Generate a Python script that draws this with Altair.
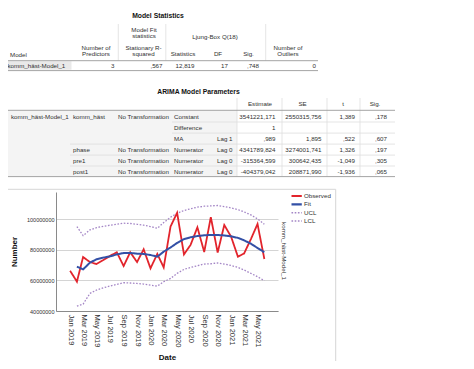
import altair as alt
import pandas as pd

FONT = "Liberation Sans"

# ---------------- data: time series (values in millions) ----------------
months = pd.date_range("2019-01-01", periods=30, freq="MS").strftime("%Y-%m-%dT00:00:00").tolist()
observed = [66.3, 59.2, 75.3, 72.0, 70.7, 73.3, 76.0, 78.4, 69.4, 78.4, 72.0, 80.3,
            67.9, 77.3, 68.5, 95.2, 104.2, 77.0, 83.2, 94.7, 78.6, 101.4, 78.2, 96.2,
            88.6, 75.5, 77.6, 87.0, 96.9, 74.0]
fit = [None, 69.0, 67.2, 71.6, 73.8, 74.9, 75.7, 77.0, 77.9, 77.9, 77.5, 77.3,
       76.6, 75.5, 78.8, 81.5, 84.5, 87.0, 88.2, 89.0, 89.5, 89.7, 89.7, 89.4,
       88.8, 87.8, 86.2, 84.0, 81.2, 78.4]
ucl = [None, 95.2, 89.3, 93.0, 94.5, 95.4, 96.1, 96.7, 97.4, 97.2, 96.7, 96.1,
       95.2, 94.1, 97.8, 101.3, 103.9, 105.7, 106.8, 107.9, 108.5, 108.7, 109.0, 108.3,
       107.4, 106.3, 104.8, 102.8, 100.2, 96.7]
lcl = [None, 43.2, 44.5, 51.5, 53.7, 55.2, 56.3, 57.4, 58.5, 58.3, 58.0, 57.6,
       56.9, 56.3, 59.1, 61.3, 64.6, 67.2, 68.5, 69.6, 70.7, 70.9, 71.4, 70.7,
       69.8, 68.5, 66.8, 64.6, 62.4, 59.8]
series_names = ["Observed", "Fit", "UCL", "LCL"]
y_ticks = [40000000, 60000000, 80000000, 100000000]
facet_label = "komm_häst-Model_1"

# ---------------- data: Model Statistics table ----------------
ms_title = "Model Statistics"
ms_stub_header = "Model"
ms_col_headers = [["Number of", "Predictors"], ["Stationary R-", "squared"], ["Statistics"],
                  ["DF"], ["Sig."], ["Number of", "Outliers"]]
ms_group_headers = [["Model Fit", "statistics"], ["Ljung-Box Q(18)"]]
ms_model = "komm_häst-Model_1"
ms_values = ["3", ",567", "12,819", "17", ",748", "0"]

# ---------------- data: ARIMA Model Parameters table ----------------
ar_title = "ARIMA Model Parameters"
ar_headers = ["Estimate", "SE", "t", "Sig."]
ar_model = "komm_häst-Model_1"
ar_var = ["komm_häst", "", "", "phase", "pre1", "post1"]
ar_transform = ["No Transformation", "", "", "No Transformation", "No Transformation", "No Transformation"]
ar_term = ["Constant", "Difference", "MA", "Numerator", "Numerator", "Numerator"]
ar_lag = ["", "", "Lag 1", "Lag 0", "Lag 0", "Lag 0"]
ar_estimate = ["3541221,171", "1", ",989", "4341789,824", "-315364,599", "-404379,042"]
ar_se = ["2550315,756", "", "1,895", "3274001,741", "300642,435", "208871,990"]
ar_t = ["1,389", "", ",522", "1,326", "-1,049", "-1,936"]
ar_sig = [",178", "", ",607", ",197", ",305", ",065"]

# ---------------- styles / layout ----------------
COLORS = {"Observed": "#e2242c", "Fit": "#3350a6", "UCL": "#a486c6", "LCL": "#a486c6"}
WIDTHS = {"Observed": 1.8, "Fit": 2.0, "UCL": 1.3, "LCL": 1.3}
DASHES = {"Observed": [1, 0], "Fit": [1, 0], "UCL": [1.6, 1.6], "LCL": [1.6, 1.6]}
TXT = "#303030"
LINE_DARK = "#9a9a9a"
LINE_LIGHT = "#dedede"

PLOT_L, PLOT_T, PLOT_W, PLOT_H = 56, 192, 222, 119
PAGE = 8
PX = alt.Scale(domain=[PLOT_L, PLOT_L + PLOT_W], nice=False, zero=False)
PY = alt.Scale(domain=[PLOT_T, PLOT_T + PLOT_H], nice=False, zero=False, reverse=True)

texts = []   # (text, x, y, align, bold, size, angle, color)
rules = []   # (x1, x2, y1, y2, color, width)
rects = []   # (x1, x2, y1, y2, color)


def T(t, x, y, align="left", bold=False, size=6.2, angle=0, color=TXT):
    if t != "":
        texts.append(dict(text=t, px=x, py=y, align=align, bold=bold, fs=size, ang=angle, col=color))


# Model Statistics layout
T(ms_title, 158, 16, "center", True, 6.8, color="#111")
T(ms_stub_header, 10, 54.5)
ms_centers = [96, 143.5, 183, 218, 248.5, 288]
ms_rights = [114.5, 162.5, 194.5, 228, 259, 316]
for c, lines in zip(ms_centers, ms_col_headers):
    ys = [47.7, 53.9] if len(lines) == 2 else [53.9]
    for ln, yy in zip(lines, ys):
        T(ln, c, yy, "center")
for c, lines, ys in zip([144, 215], ms_group_headers, [[29.5, 36], [37.3]]):
    for ln, yy in zip(lines, ys):
        T(ln, c, yy, "center")
rects.append((6.5, 71.5, 61.2, 69.8, "#e9e9e9"))
T(ms_model, 7.5, 65.5)
for r, v in zip(ms_rights, ms_values):
    T(v, r, 65.5, "right")
for xx in [118.3, 165.8, 265.7]:
    rules.append((xx, xx, 24, 60.5, LINE_LIGHT, 0.8))
rules.append((6, 318, 60.7, 60.7, LINE_DARK, 0.9))
rules.append((6, 318, 70.6, 70.6, LINE_DARK, 0.9))

# ARIMA layout
T(ar_title, 198.5, 92, "center", True, 6.8, color="#111")
ar_centers = [260, 302.5, 343, 375]
ar_rights = [275.5, 321.5, 355, 387]
for c, h in zip(ar_centers, ar_headers):
    T(h, c, 104, "center")
row_y = [116.5, 127.5, 138.6, 149.6, 160.5, 171.5]
rects.append((6, 237, 110.3, 176.5, "#f4f4f4"))
T(ar_model, 11, row_y[0])
for i, yy in enumerate(row_y):
    T(ar_var[i], 73, yy)
    T(ar_transform[i], 118, yy)
    T(ar_term[i], 174, yy)
    T(ar_lag[i], 217, yy)
    for r, col in zip(ar_rights, [ar_estimate, ar_se, ar_t, ar_sig]):
        T(col[i], r, yy, "right")
for xx in [237, 282, 327, 360]:
    rules.append((xx, xx, 98, 176.5, LINE_LIGHT, 0.8))
for yy, x0 in [(122, 172), (133.1, 172), (144.1, 70), (155.1, 70), (166, 70)]:
    rules.append((x0, 395, yy, yy, LINE_LIGHT, 0.8))
rules.append((6, 395, 110.3, 110.3, LINE_DARK, 0.9))
rules.append((6, 395, 176.6, 176.6, LINE_DARK, 0.9))

# chart frame
rules.append((3.3, 3.3, 189.3, 369, "#d6d6d6", 1))
rules.append((335.7, 335.7, 189.3, 369, "#d6d6d6", 1))
rules.append((3.3, 335.7, 189.3, 189.3, "#d6d6d6", 1))

# facet label
T(facet_label, 284, 251, "center", False, 6.2, 90)

# legend
legend_y = [196, 204.4, 212.7, 221]
leg_rows = []
for name, yy in zip(series_names, legend_y):
    T(name, 304, yy, "left", False, 6.2)
    leg_rows.append(dict(name=name, x1=291.5, x2=301.8, y=yy))

# ---------------- line chart ----------------
line_rows = []
for name, vals in zip(series_names, [observed, fit, ucl, lcl]):
    for d, v in zip(months, vals):
        if v is not None:
            line_rows.append({"date": d, "value": v * 1e6, "series": name})
line_df = pd.DataFrame(line_rows)

x_enc = alt.X(
    "date:T",
    title="Date",
    scale=alt.Scale(domain=[alt.DateTime(year=2018, month=10, date=29),
                            alt.DateTime(year=2021, month=8, date=2)], nice=False),
    axis=alt.Axis(values=[alt.DateTime(year=y, month=m, date=1)
                          for y in (2019, 2020, 2021) for m in (1, 3, 5, 7, 9, 11)
                          if not (y == 2021 and m > 5)],
                  format="%b %Y", labelAngle=90, labelFontSize=7.5, labelColor=TXT,
                  labelPadding=3, ticks=False, tickSize=0, grid=False,
                  domainColor="#8a8a8a", titleFontSize=8, titleFontWeight="bold",
                  titleColor="#111", titlePadding=7, labelOverlap=False),
)
y_enc = alt.Y(
    "value:Q",
    title="Number",
    scale=alt.Scale(domain=[40000000, 117800000], nice=False, zero=False),
    axis=alt.Axis(values=y_ticks, format="d", labelFontSize=5.5, labelColor=TXT,
                  labelPadding=2, ticks=False, tickSize=0, grid=True, gridColor="#d4d4d4",
                  gridWidth=1, domainColor="#8a8a8a", titleFontSize=8,
                  titleFontWeight="bold", titleColor="#111", titlePadding=8),
)

line_layers = []
for name in series_names:
    line_layers.append(
        alt.Chart(line_df).transform_filter(alt.datum.series == name)
        .mark_line(color=COLORS[name], strokeWidth=WIDTHS[name], strokeDash=DASHES[name])
        .encode(x=x_enc, y=y_enc)
    )
# draw intervals first, then observed, then fit
lines = alt.layer(line_layers[2], line_layers[3], line_layers[0], line_layers[1])

# ---------------- overlay (tables, legend, labels) ----------------
text_df = pd.DataFrame(texts)
rules_df = pd.DataFrame(rules, columns=["x1", "x2", "y1", "y2", "col", "w"])
rects_df = pd.DataFrame(rects, columns=["x1", "x2", "y1", "y2", "col"])
leg_df = pd.DataFrame(leg_rows)

overlay = []
overlay.append(
    alt.Chart(rects_df).mark_rect().encode(
        x=alt.X("x1:Q", scale=PX, axis=None), x2="x2:Q",
        y=alt.Y("y1:Q", scale=PY, axis=None), y2="y2:Q",
        color=alt.Color("col:N", scale=None, legend=None))
)
overlay.append(
    alt.Chart(rules_df).mark_rule().encode(
        x=alt.X("x1:Q", scale=PX, axis=None), x2="x2:Q",
        y=alt.Y("y1:Q", scale=PY, axis=None), y2="y2:Q",
        color=alt.Color("col:N", scale=None, legend=None),
        strokeWidth=alt.StrokeWidth("w:Q", scale=None, legend=None))
)
for name in series_names:
    overlay.append(
        alt.Chart(leg_df).transform_filter(alt.datum.name == name)
        .mark_rule(color=COLORS[name], strokeWidth=WIDTHS[name] + 0.2, strokeDash=DASHES[name])
        .encode(x=alt.X("x1:Q", scale=PX, axis=None), x2="x2:Q",
                y=alt.Y("y:Q", scale=PY, axis=None))
    )
for (align, bold, ang), g in text_df.groupby(["align", "bold", "ang"]):
    overlay.append(
        alt.Chart(g.drop(columns=["align", "bold", "ang"])).mark_text(
            align=align, baseline="middle", angle=float(ang),
            fontWeight="bold" if bold else "normal", font=FONT)
        .encode(x=alt.X("px:Q", scale=PX, axis=None),
                y=alt.Y("py:Q", scale=PY, axis=None),
                text="text:N",
                size=alt.Size("fs:Q", scale=None, legend=None),
                color=alt.Color("col:N", scale=None, legend=None))
    )
overlay_layer = alt.layer(*overlay)

SVG_W, SVG_H = 400, 353
chart = (
    alt.layer(lines, overlay_layer)
    .resolve_scale(x="independent", y="independent")
    .properties(
        width=PLOT_W, height=PLOT_H,
        autosize=alt.AutoSizeParams(type="none"),
        padding={"left": PLOT_L - PAGE, "top": PLOT_T - PAGE,
                 "right": SVG_W - (PLOT_L - PAGE) - PLOT_W,
                 "bottom": SVG_H - (PLOT_T - PAGE) - PLOT_H},
        background="white",
    )
    .configure(font=FONT)
    .configure_view(stroke=None)
)

chart.save("out.html", embed_options={"renderer": "svg", "actions": False})
